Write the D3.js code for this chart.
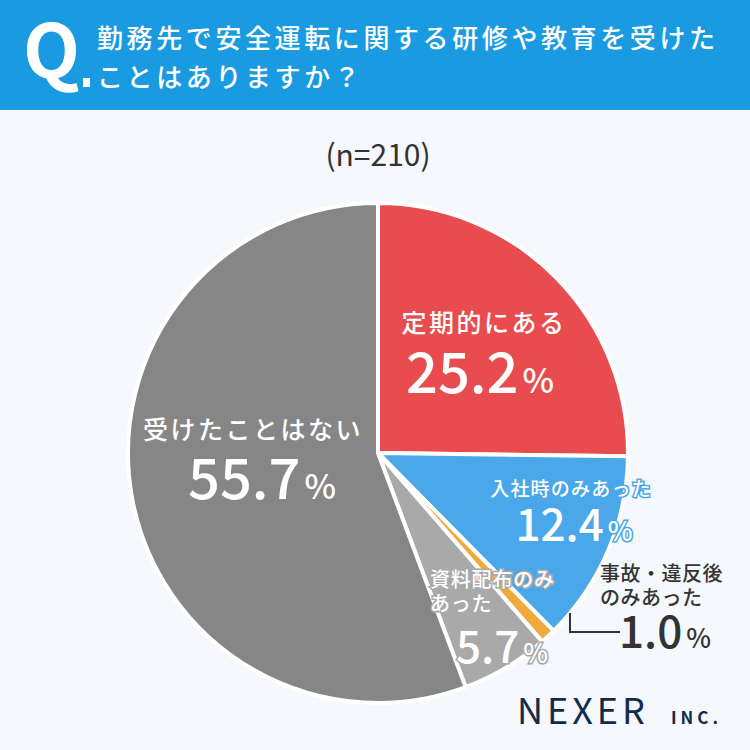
<!DOCTYPE html>
<html>
<head>
<meta charset="utf-8">
<script src="https://cdn.jsdelivr.net/npm/d3@7"></script>
<style>
  body { margin: 0; background: #f5f8fc; }
  text { font-family: "Noto Sans CJK JP", "Noto Sans", sans-serif; }
</style>
</head>
<body>
<div id="chart"></div>
<script>
// ----------------------------------------------- //
// Data
var labels = ["定期的にある", "入社時のみあった", "事故・違反後のみあった", "資料配布のみあった", "受けたことはない"];
var values = [25.2, 12.4, 1.0, 5.7, 55.7];
var colors = ["#e84c4f", "#4aa7ea", "#f0a93c", "#a9a9a9", "#878687"];

var width = 750, height = 750;
var cx = 378, cy = 453, radius = 250;

var svg = d3.select("#chart").append("svg")
    .attr("width", width)
    .attr("height", height);

svg.append("rect").attr("width", width).attr("height", height).attr("fill", "#f5f8fc");

// ----------------------------------------------- //
// Header band
svg.append("rect").attr("width", width).attr("height", 110).attr("fill", "#1a9ae0");
svg.append("text").attr("x", 23).attr("y", 78)
    .attr("fill", "#fff").attr("font-size", 74).attr("font-weight", 700)
    .attr("font-family", "Roboto, sans-serif").text("Q");
svg.append("rect").attr("x", 83).attr("y", 78).attr("width", 7).attr("height", 9).attr("fill", "#fff");
var title = ["勤務先で安全運転に関する研修や教育を受けた", "ことはありますか？"];
title.forEach(function(t, i) {
    svg.append("text").attr("x", 97).attr("y", 48 + i * 39)
        .attr("fill", "#fff").attr("font-size", 26).attr("letter-spacing", 3.6)
        .attr("font-weight", 500).text(t);
});

svg.append("text").attr("x", 378).attr("y", 166).attr("text-anchor", "middle")
    .attr("fill", "#333").attr("font-size", 30).attr("font-family", "Roboto, sans-serif")
    .text("(n=210)");

// ----------------------------------------------- //
// Pie
var pie = d3.pie().sort(null).value(d => d);
var arc = d3.arc().innerRadius(0).outerRadius(radius);

var g = svg.append("g").attr("transform", `translate(${cx}, ${cy})`);
g.selectAll("path")
    .data(pie(values))
    .enter()
    .append("path")
    .attr("d", arc)
    .attr("fill", (d, i) => colors[i])
    .attr("stroke", "#fff")
    .attr("stroke-width", 4)
    .attr("stroke-linejoin", "round");

// ----------------------------------------------- //
// Labels
function pctText(x, y, value, size, fill, stroke) {
    var t = svg.append("text").attr("x", x).attr("y", y).attr("text-anchor", "middle")
        .attr("fill", fill).attr("font-family", "Roboto, 'Noto Sans', sans-serif")
        .attr("font-weight", 500);
    if (stroke) t.attr("stroke", stroke).attr("stroke-width", 3).attr("paint-order", "stroke");
    t.append("tspan").attr("font-size", size).text(value.toFixed(1));
    t.append("tspan").attr("font-size", size * 0.6).attr("dx", 4).text("%");
}
function nameText(x, y, lines, size, fill, stroke, anchor, spacing) {
    lines.forEach(function(l, i) {
        var t = svg.append("text").attr("x", x).attr("y", y + i * (size + 4))
            .attr("text-anchor", anchor || "middle")
            .attr("letter-spacing", spacing || 0)
            .attr("fill", fill).attr("font-size", size).attr("font-weight", 500).text(l);
        if (stroke) t.attr("stroke", stroke).attr("stroke-width", 3).attr("paint-order", "stroke");
    });
}

nameText(484, 332, [labels[0]], 25, "#fff", null, "middle", 2.5);
pctText(480, 393, values[0], 56, "#fff");

nameText(571, 496, [labels[1]], 19, "#fff", "#4aa7ea", "middle", 1.2);
pctText(574, 541, values[1], 44, "#fff", "#4aa7ea");

nameText(600, 581, ["事故・違反後", "のみあった"], 20, "#333", null, "start", 0.5);
pctText(665, 648, values[2], 44, "#333");
svg.append("polyline")
    .attr("points", "570,613 570,632 620,632")
    .attr("fill", "none").attr("stroke", "#333").attr("stroke-width", 2);

nameText(430, 587, ["資料配布のみ", "あった"], 20, "#fff", "#a9a9a9", "start", 0.8);
pctText(502, 663, values[3], 44, "#fff", "#a9a9a9");

nameText(253, 439, [labels[4]], 25, "#fff", null, "middle", 2.5);
pctText(262, 499, values[4], 56, "#fff");

// ----------------------------------------------- //
// Logo
svg.append("text").attr("x", 517).attr("y", 724)
    .attr("fill", "#132b4a").attr("font-size", 36).attr("letter-spacing", 4)
    .attr("font-family", "'Liberation Sans', sans-serif").text("NEXER");
svg.append("text").attr("x", 671).attr("y", 724)
    .attr("fill", "#132b4a").attr("font-size", 17).attr("font-weight", 700).attr("letter-spacing", 4)
    .attr("font-family", "'Liberation Sans', sans-serif").text("INC.");
</script>
</body>
</html>
